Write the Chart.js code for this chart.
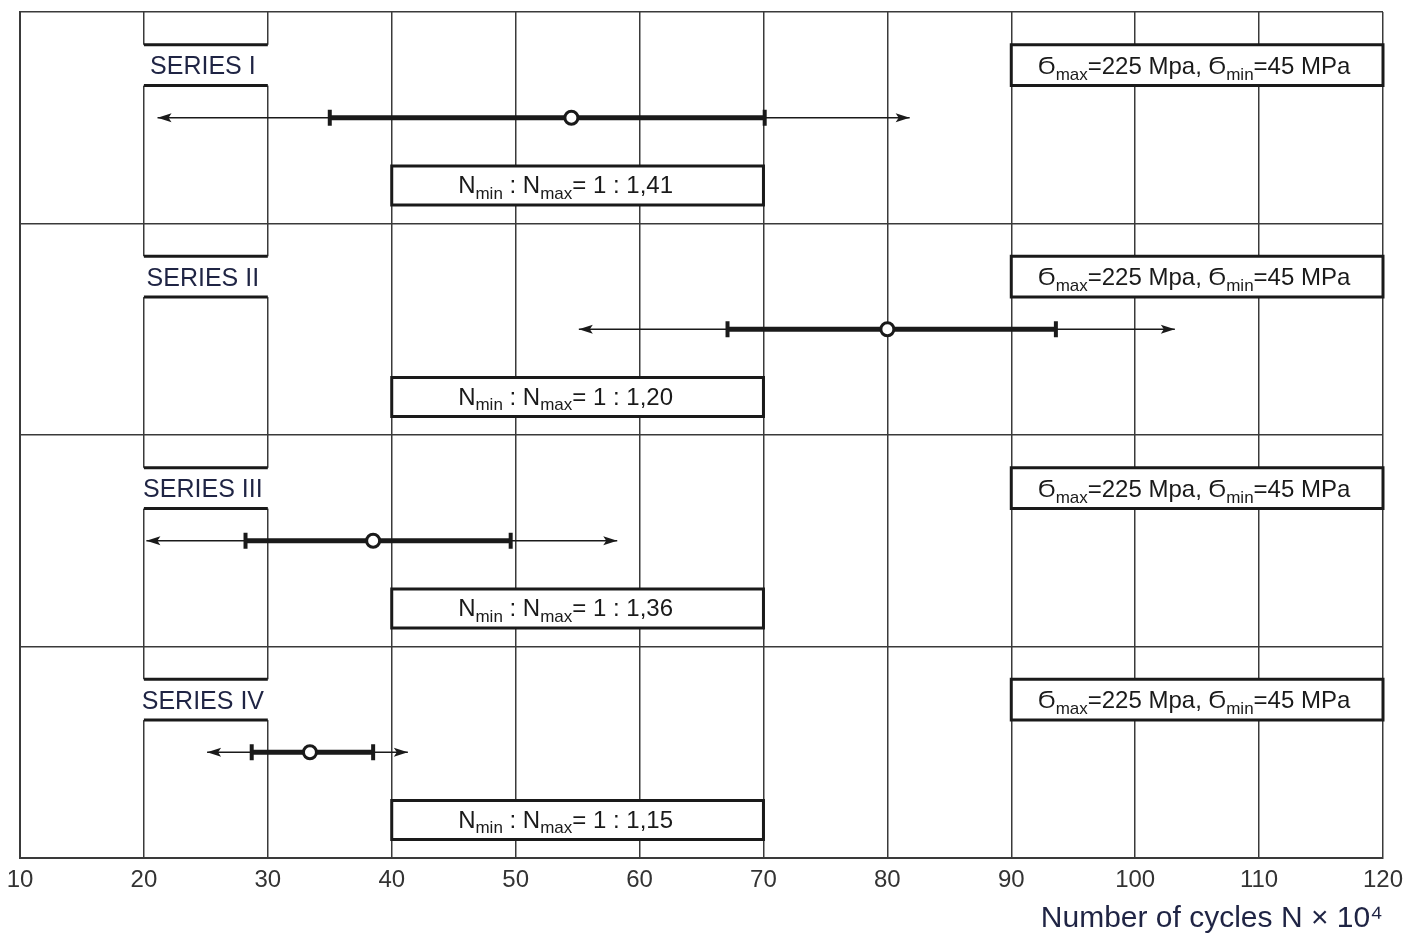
<!DOCTYPE html>
<html>
<head>
<meta charset="utf-8">
<script src="https://cdn.jsdelivr.net/npm/chart.js@4.4.0/dist/chart.umd.min.js"></script>
<style>
  html, body { margin: 0; padding: 0; background: #fff; }
  #wrap { width: 1419px; height: 934px; }
</style>
</head>
<body>
<div id="wrap"><canvas id="chart"></canvas></div>
<script>
// values (x in cycles x 10^4)
const seriesNames = ["SERIES I", "SERIES II", "SERIES III", "SERIES IV"];
const rowCenter = [3.5, 2.5, 1.5, 0.5];
const arrowFrom = [21.1, 55.1, 20.2, 25.1];
const arrowTo = [81.8, 103.2, 58.2, 41.3];
const rangeMin = [35.0, 67.1, 28.2, 28.7];
const rangeMax = [70.1, 93.6, 49.6, 38.5];
const meanCycles = [54.5, 80.0, 38.5, 33.4];
const ratioText = ["1,41", "1,20", "1,36", "1,15"];
const sigmaMax = "225";
const sigmaMin = "45";
const xTicks = [10, 20, 30, 40, 50, 60, 70, 80, 90, 100, 110, 120];

const FONT = "'Liberation Sans', Arial, sans-serif";
const INK = "#1a1a1a";
const NAVY = "#1f2444";
const GRID = "#3a3a3a";

Chart.defaults.font.family = FONT;

var datasets = [];
for (var i = 0; i < seriesNames.length; i++) {
  datasets.push({
    label: seriesNames[i] + " mean",
    data: [{ x: meanCycles[i], y: rowCenter[i] }],
    showLine: false,
    pointStyle: "circle",
    pointRadius: 6.5,
    pointBackgroundColor: "#fff",
    pointBorderColor: INK,
    pointBorderWidth: 3,
    order: 0,
  });
  datasets.push({
    label: seriesNames[i] + " range",
    data: [{ x: rangeMin[i], y: rowCenter[i] }, { x: rangeMax[i], y: rowCenter[i] }],
    showLine: true,
    borderColor: INK,
    borderWidth: 5,
    pointStyle: "line",
    pointRotation: 90,
    pointRadius: 8,
    pointBorderColor: INK,
    pointBorderWidth: 4,
    order: 1,
  });
  datasets.push({
    label: seriesNames[i] + " scatter",
    data: [{ x: arrowFrom[i], y: rowCenter[i] }, { x: arrowTo[i], y: rowCenter[i] }],
    showLine: true,
    borderColor: INK,
    borderWidth: 1.5,
    pointRadius: 0,
    arrows: true,
    order: 2,
  });
}

// text with subscripts, centred on (cx, cy)
function drawRich(ctx, parts, cx, cy, size, color) {
  const subSize = Math.round(size * 0.7);
  let total = 0;
  for (const p of parts) {
    ctx.font = (p.sub ? subSize : size) + "px " + FONT;
    total += ctx.measureText(p.t).width;
  }
  let x = cx - total / 2;
  ctx.fillStyle = color;
  ctx.textBaseline = "middle";
  ctx.textAlign = "left";
  for (const p of parts) {
    ctx.font = (p.sub ? subSize : size) + "px " + FONT;
    ctx.fillText(p.t, x, p.sub ? cy + size * 0.32 : cy);
    x += ctx.measureText(p.t).width;
  }
}

function drawBox(ctx, sx, sy, x1, x2, y1, y2, sides) {
  const left = sx.getPixelForValue(x1);
  const right = sx.getPixelForValue(x2);
  const top = sy.getPixelForValue(y1);
  const bottom = sy.getPixelForValue(y2);
  ctx.fillStyle = "#fff";
  if (sides) {
    ctx.fillRect(left, top, right - left, bottom - top);
  } else {
    ctx.fillRect(left - 2, top, right - left + 4, bottom - top);
  }
  ctx.strokeStyle = INK;
  ctx.lineWidth = 3;
  ctx.beginPath();
  if (sides) {
    ctx.rect(left, top, right - left, bottom - top);
  } else {
    ctx.moveTo(left, top); ctx.lineTo(right, top);
    ctx.moveTo(left, bottom); ctx.lineTo(right, bottom);
  }
  ctx.stroke();
  return { cx: (left + right) / 2, cy: (top + bottom) / 2 };
}

const boxesPlugin = {
  id: "boxes",
  beforeDatasetsDraw(chart) {
    const ctx = chart.ctx;
    const sx = chart.scales.x;
    const sy = chart.scales.y;
    ctx.save();
    for (var i = 0; i < seriesNames.length; i++) {
      const rowTop = rowCenter[i] + 0.5;
      // series label band, cuts the 20 and 30 grid lines
      let c = drawBox(ctx, sx, sy, 20, 30, rowTop - 0.155, rowTop - 0.348, false);
      ctx.font = "25px " + FONT;
      ctx.fillStyle = NAVY;
      ctx.textAlign = "center";
      ctx.textBaseline = "middle";
      ctx.fillText(seriesNames[i], c.cx - 3, c.cy + 2);

      c = drawBox(ctx, sx, sy, 90, 120, rowTop - 0.155, rowTop - 0.348, true);
      drawRich(ctx, [
        { t: "Ϭ" }, { t: "max", sub: true }, { t: "=" + sigmaMax + " Mpa, Ϭ" },
        { t: "min", sub: true }, { t: "=" + sigmaMin + " MPa" },
      ], c.cx - 3, c.cy + 2, 24, INK);

      c = drawBox(ctx, sx, sy, 40, 70, rowTop - 0.728, rowTop - 0.912, true);
      drawRich(ctx, [
        { t: "N" }, { t: "min", sub: true }, { t: " : N" }, { t: "max", sub: true },
        { t: "= 1 : " + ratioText[i] },
      ], c.cx - 12, c.cy + 1, 24, INK);
    }
    ctx.restore();
  },
  afterDatasetsDraw(chart) {
    const ctx = chart.ctx;
    ctx.save();
    ctx.fillStyle = INK;
    chart.data.datasets.forEach(function (ds, k) {
      if (!ds.arrows) return;
      const pts = chart.getDatasetMeta(k).data;
      [[pts[0], -1], [pts[pts.length - 1], 1]].forEach(function (e) {
        const x = e[0].x, y = e[0].y, d = e[1];
        ctx.beginPath();
        ctx.moveTo(x, y);
        ctx.lineTo(x - d * 14, y - 4.5);
        ctx.lineTo(x - d * 11, y);
        ctx.lineTo(x - d * 14, y + 4.5);
        ctx.closePath();
        ctx.fill();
      });
    });
    ctx.restore();
  },
};

function noOverflow(scale) {
  scale.paddingLeft = 0;
  scale.paddingRight = 0;
  scale.paddingTop = 0;
  scale.paddingBottom = 0;
}

new Chart(document.getElementById("chart"), {
  type: "scatter",
  data: { datasets: datasets },
  options: {
    responsive: true,
    maintainAspectRatio: false,
    animation: false,
    layout: { padding: { left: 20, right: 36, top: 6, bottom: -1 } },
    plugins: { legend: { display: false }, tooltip: { enabled: false } },
    scales: {
      x: {
        type: "linear",
        min: 10,
        max: 120,
        afterBuildTicks: function (scale) {
          scale.ticks = xTicks.map(function (v) { return { value: v }; });
        },
        afterFit: noOverflow,
        ticks: { color: "#333", font: { size: 24, lineHeight: 1 }, padding: 10, maxRotation: 0 },
        grid: { color: GRID, lineWidth: 1.5, drawTicks: false },
        border: { color: GRID, width: 2 },
        title: {
          display: true,
          align: "end",
          text: "Number of cycles N × 10⁴",
          color: NAVY,
          font: { size: 30, lineHeight: 1.1 },
          padding: { top: 0, bottom: 0 },
        },
      },
      y: {
        type: "linear",
        min: 0,
        max: 4,
        afterFit: noOverflow,
        ticks: { display: false, stepSize: 1 },
        grid: { color: GRID, lineWidth: 1.5, drawTicks: false },
        border: { color: GRID, width: 2 },
      },
    },
  },
  plugins: [boxesPlugin],
});
</script>
</body>
</html>
